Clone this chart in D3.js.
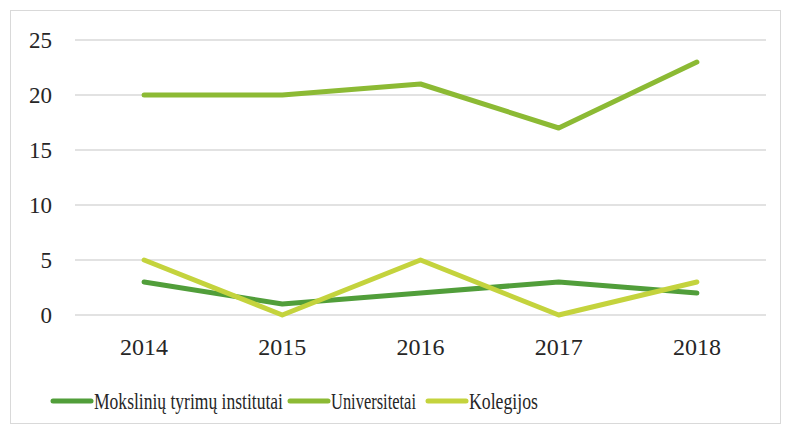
<!DOCTYPE html>
<html>
<head>
<meta charset="utf-8">
<script src="https://cdn.jsdelivr.net/npm/d3@7"></script>
</head>
<body style="margin:0; background:#fff; font-family:'Liberation Serif', 'Times New Roman', serif">
<script>
// data
const years = ["2014", "2015", "2016", "2017", "2018"];
const institutai = [3, 1, 2, 3, 2];
const universitetai = [20, 20, 21, 17, 23];
const kolegijos = [5, 0, 5, 0, 3];
const seriesNames = ["Mokslinių tyrimų institutai", "Universitetai", "Kolegijos"];
const yTicks = [0, 5, 10, 15, 20, 25];

const colors = ["#519e3a", "#8cba34", "#c4d33d"];
const seriesData = [institutai, universitetai, kolegijos];
const serif = "Times New Roman";

const W = 791, H = 434;
let svg = d3.select("body").append("svg")
  .attr("width", W)
  .attr("height", H)
  .style("font-family", "'Liberation Serif', 'Times New Roman', serif");

// chart frame
svg.append("rect")
  .attr("x", 10.5).attr("y", 10.5)
  .attr("width", W - 21).attr("height", H - 21)
  .attr("fill", "none")
  .attr("stroke", "#d9d9d9")
  .attr("stroke-width", 1);

var x = d3.scaleBand()
  .domain(years)
  .range([75, 766]);

var y = d3.scaleLinear()
  .domain([0, 25])
  .range([315, 40]);

// gridlines
svg.append("g")
  .selectAll("line")
  .data(yTicks)
  .enter()
  .append("line")
  .attr("x1", 75).attr("x2", 766)
  .attr("y1", d => y(d)).attr("y2", d => y(d))
  .attr("stroke", "#d9d9d9")
  .attr("stroke-width", 1.3);

// y labels
svg.append("g")
  .selectAll("text")
  .data(yTicks)
  .enter()
  .append("text")
  .attr("x", 52)
  .attr("y", d => y(d) + 8)
  .attr("text-anchor", "end")
  .style("font-family", serif)
  .style("font-size", "23px")
  .attr("fill", "#262626")
  .text(d => d);

// x labels
svg.append("g")
  .selectAll("text")
  .data(years)
  .enter()
  .append("text")
  .attr("x", d => x(d) + x.bandwidth() / 2)
  .attr("y", 355)
  .attr("text-anchor", "middle")
  .style("font-family", serif)
  .style("font-size", "24px")
  .attr("fill", "#262626")
  .text(d => d);

let line = d3.line()
  .x((d, i) => x(years[i]) + x.bandwidth() / 2)
  .y(d => y(d));

svg.append("g")
  .selectAll("path")
  .data(seriesData)
  .enter()
  .append("path")
  .attr("d", d => line(d))
  .attr("fill", "none")
  .attr("stroke", (d, i) => colors[i])
  .attr("stroke-width", 5)
  .attr("stroke-linecap", "round")
  .attr("stroke-linejoin", "round");

// legend
const legendX = [53, 290, 428];
const legendW = [189, 85, 69];
let legend = svg.append("g")
  .selectAll("g")
  .data(seriesNames)
  .enter()
  .append("g")
  .attr("transform", (d, i) => "translate(" + legendX[i] + ",401)");

legend.append("line")
  .attr("x1", 0).attr("x2", 38)
  .attr("stroke", (d, i) => colors[i])
  .attr("stroke-width", 5)
  .attr("stroke-linecap", "round");

legend.append("text")
  .attr("x", 41)
  .attr("y", 8)
  .style("font-family", serif)
  .style("font-size", "23px")
  .attr("fill", "#262626")
  .attr("textLength", (d, i) => legendW[i])
  .attr("lengthAdjust", "spacingAndGlyphs")
  .text(d => d);
</script>
</body>
</html>
